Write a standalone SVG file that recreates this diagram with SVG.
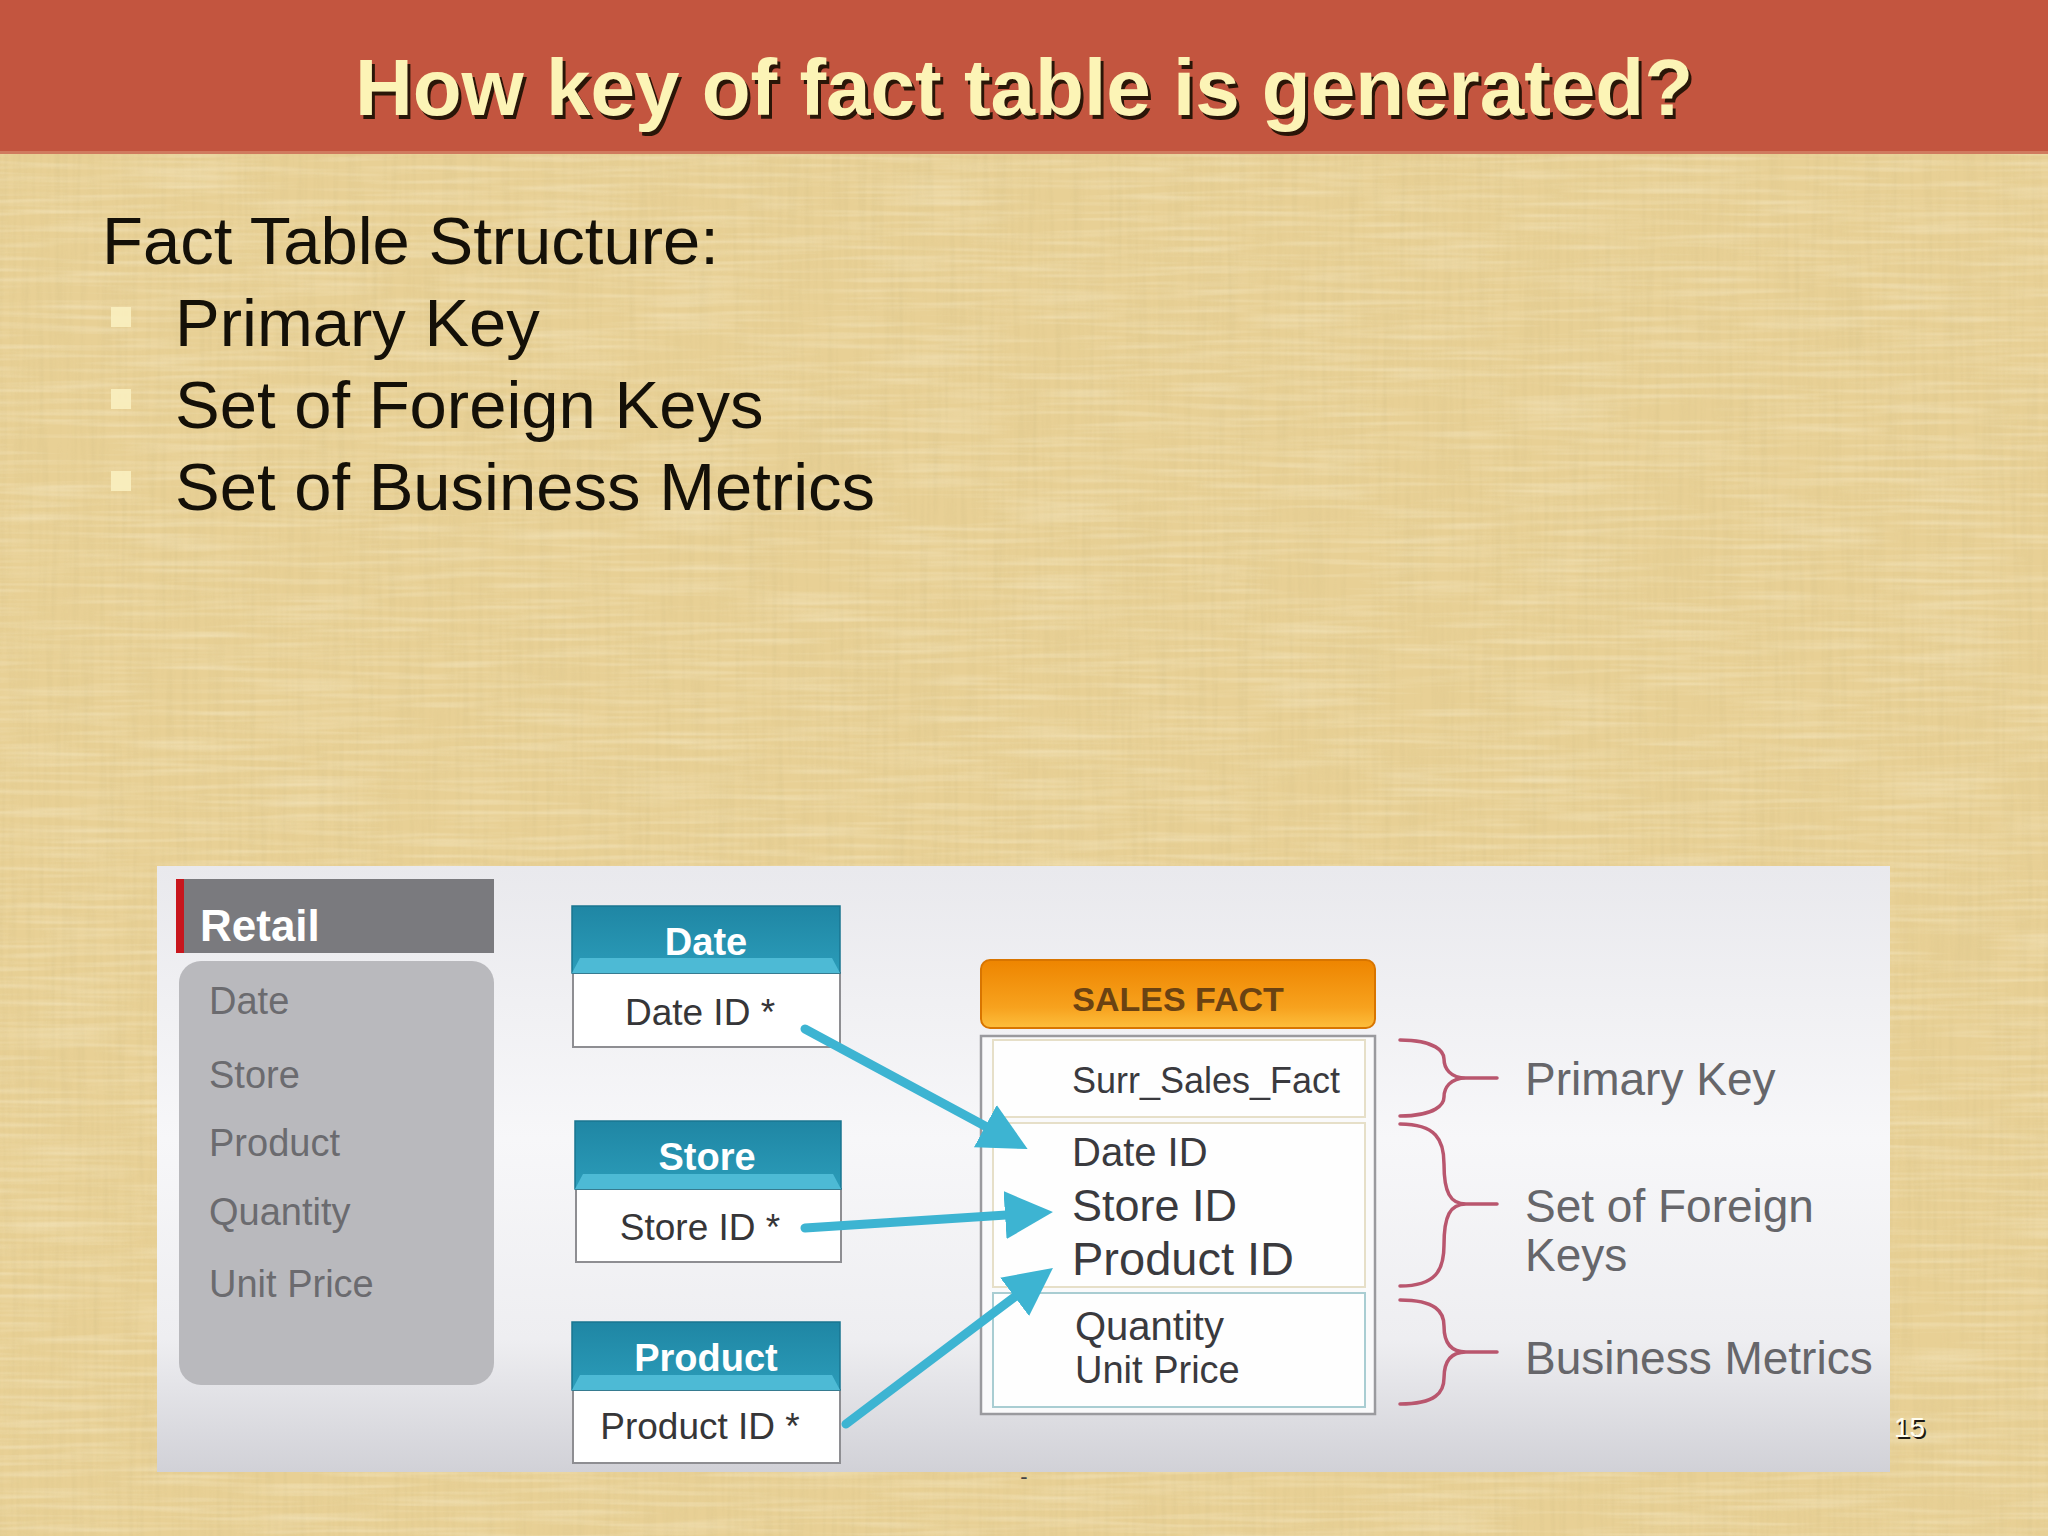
<svg xmlns="http://www.w3.org/2000/svg" width="2048" height="1536" viewBox="0 0 2048 1536">
<defs>
<style>
.t{font-family:"Liberation Sans",Arial,sans-serif}
.title{font-weight:bold;font-size:80px;fill:#FCF4B6}
.title-sh{font-weight:bold;font-size:80px;fill:#2a1608}
.body{font-size:67px;fill:#141008}
.bullet{fill:#FAF0C0;opacity:.9}
.retail-item{font-size:38px;fill:#6B6B6F}
.th{font-size:38px;font-weight:bold;fill:#FFFFFF;text-anchor:middle}
.td{font-size:37px;fill:#363638;text-anchor:middle}
.tbl-body{fill:#FFFFFF;stroke:#8E8E92;stroke-width:2}
.conn{stroke:#3DB4D2;stroke-width:9;fill:none;stroke-linecap:round}
.brace{stroke:#B9566E;stroke-width:3.5;fill:none;stroke-linecap:round}
.lbl{font-size:46px;fill:#66666A}
.sf{fill:#3A3A3E}
.row{fill:#FEFEFE;stroke:#E6DFC8;stroke-width:2}
</style>
<filter id="linenV" x="0" y="0" width="100%" height="100%">
<feTurbulence type="fractalNoise" baseFrequency="0.18 0.008" numOctaves="2" seed="7"/>
<feColorMatrix type="matrix" values="0 0 0 0 0.70  0 0 0 0 0.56  0 0 0 0 0.26  1.5 0 0 0 -0.6"/>
</filter>
<filter id="linenH" x="0" y="0" width="100%" height="100%">
<feTurbulence type="fractalNoise" baseFrequency="0.008 0.18" numOctaves="2" seed="11"/>
<feColorMatrix type="matrix" values="0 0 0 0 0.99  0 0 0 0 0.94  0 0 0 0 0.76  1.5 0 0 0 -0.62"/>
</filter>
<linearGradient id="insetBg" x1="0" y1="0" x2="0" y2="1">
<stop offset="0" stop-color="#E9E9ED"/>
<stop offset="0.45" stop-color="#F7F7F9"/>
<stop offset="0.78" stop-color="#EEEEF1"/>
<stop offset="1" stop-color="#D1D1D7"/>
</linearGradient>
<linearGradient id="teal" x1="0" y1="0" x2="0" y2="1">
<stop offset="0" stop-color="#1F86A4"/>
<stop offset="1" stop-color="#2B9CB9"/>
</linearGradient>
<linearGradient id="orange" x1="0" y1="0" x2="0" y2="1">
<stop offset="0" stop-color="#EE8500"/>
<stop offset="0.7" stop-color="#F7A21E"/>
<stop offset="1" stop-color="#FDBE3C"/>
</linearGradient>
<marker id="ah" markerUnits="userSpaceOnUse" markerWidth="50" markerHeight="50" refX="28" refY="24" orient="auto" viewBox="0 0 50 50">
<path d="M0,0 L48,24 L0,48 z" fill="#3DB4D2"/>
</marker>
</defs>

<!-- background -->
<rect x="0" y="0" width="2048" height="1536" fill="#E8D095"/>
<rect x="0" y="0" width="2048" height="1536" filter="url(#linenV)" opacity="0.6"/>
<rect x="0" y="0" width="2048" height="1536" filter="url(#linenH)" opacity="0.45"/>

<!-- header -->
<g id="header">
<rect x="0" y="0" width="2048" height="153" fill="#C3553F"/>
<rect x="0" y="151" width="2048" height="3" fill="#D07A5E"/>
<text class="t title-sh" x="1027" y="119" text-anchor="middle">How key of fact table is generated?</text>
<text class="t title" x="1024" y="115" text-anchor="middle">How key of fact table is generated?</text>
</g>

<!-- bullet text -->
<g id="structure-text">
<text class="t body" x="102" y="264">Fact Table Structure:</text>
<rect class="bullet" x="111" y="307" width="20" height="20"/>
<text class="t body" x="175" y="346">Primary Key</text>
<rect class="bullet" x="111" y="389" width="20" height="20"/>
<text class="t body" x="175" y="428">Set of Foreign Keys</text>
<rect class="bullet" x="111" y="471" width="20" height="20"/>
<text class="t body" x="175" y="510">Set of Business Metrics</text>
</g>

<!-- inset panel -->
<g id="inset">
<rect x="157" y="866" width="1733" height="606" fill="url(#insetBg)"/>
</g>

<g id="retail">
<rect x="176" y="879" width="318" height="74" fill="#7A7A7E"/>
<rect x="176" y="879" width="8" height="74" fill="#C8161D"/>
<text class="t" x="200" y="941" font-size="44" font-weight="bold" fill="#FFFFFF">Retail</text>
<rect x="179" y="961" width="315" height="424" rx="22" fill="#B9B9BD"/>
<text class="t retail-item" x="209" y="1014">Date</text>
<text class="t retail-item" x="209" y="1088">Store</text>
<text class="t retail-item" x="209" y="1156">Product</text>
<text class="t retail-item" x="209" y="1225">Quantity</text>
<text class="t retail-item" x="209" y="1297">Unit Price</text>
</g>

<g id="dim-date">
<rect class="tbl-body" x="573" y="973" width="267" height="74"/>
<rect x="572" y="906" width="268" height="67" fill="url(#teal)" stroke="#1A7590" stroke-width="1.5"/>
<polygon points="572,973 840,973 832,958 580,958" fill="#4DBAD5"/>
<text class="t th" x="706" y="955">Date</text>
<text class="t td" x="700" y="1025">Date ID *</text>
</g>

<g id="dim-store">
<rect class="tbl-body" x="576" y="1189" width="265" height="73"/>
<rect x="575" y="1121" width="266" height="68" fill="url(#teal)" stroke="#1A7590" stroke-width="1.5"/>
<polygon points="575,1189 841,1189 833,1174 583,1174" fill="#4DBAD5"/>
<text class="t th" x="707" y="1170">Store</text>
<text class="t td" x="700" y="1240">Store ID *</text>
</g>

<g id="dim-product">
<rect class="tbl-body" x="573" y="1390" width="267" height="73"/>
<rect x="572" y="1322" width="268" height="68" fill="url(#teal)" stroke="#1A7590" stroke-width="1.5"/>
<polygon points="572,1390 840,1390 832,1375 580,1375" fill="#4DBAD5"/>
<text class="t th" x="706" y="1371">Product</text>
<text class="t td" x="700" y="1439">Product ID *</text>
</g>

<g id="sales-fact">
<rect x="981" y="1036" width="394" height="378" fill="#FAFAFB" stroke="#9A9A9E" stroke-width="2.5"/>
<rect class="row" x="993" y="1040" width="372" height="77"/>
<rect class="row" x="993" y="1123" width="372" height="164"/>
<rect x="993" y="1293" width="372" height="114" fill="#FEFEFE" stroke="#A9CDD2" stroke-width="2"/>
<rect x="981" y="960" width="394" height="68" rx="9" fill="url(#orange)" stroke="#D87500" stroke-width="2"/>
<text class="t" x="1178" y="1011" font-size="34" font-weight="bold" fill="#6A4212" text-anchor="middle">SALES FACT</text>
<text class="t sf" x="1072" y="1093" font-size="36">Surr_Sales_Fact</text>
<text class="t sf" x="1072" y="1166" font-size="40">Date ID</text>
<text class="t sf" x="1072" y="1221" font-size="45">Store ID</text>
<text class="t sf" x="1072" y="1275" font-size="47">Product ID</text>
<text class="t sf" x="1075" y="1340" font-size="40">Quantity</text>
<text class="t sf" x="1075" y="1383" font-size="38">Unit Price</text>
</g>

<g id="connectors">
<line class="conn" x1="805" y1="1029" x2="1010" y2="1139.5" marker-end="url(#ah)"/>
<line class="conn" x1="805" y1="1228" x2="1033" y2="1213.3" marker-end="url(#ah)"/>
<line class="conn" x1="846" y1="1424" x2="1037" y2="1280" marker-end="url(#ah)"/>
<path class="brace" d="M1400,1040 C1436,1040 1444,1052 1444,1059 C1444,1068 1450,1078 1466,1078 C1450,1078 1444,1088 1444,1097 C1444,1104 1436,1116 1400,1116 M1466,1078 L1497,1078"/>
<path class="brace" d="M1400,1124 C1436,1124 1444,1140 1444,1164 C1444,1192 1450,1204 1466,1204 C1450,1204 1444,1216 1444,1245 C1444,1270 1436,1286 1400,1286 M1466,1204 L1497,1204"/>
<path class="brace" d="M1400,1300 C1436,1300 1444,1312 1444,1326 C1444,1342 1450,1352 1466,1352 C1450,1352 1444,1362 1444,1378 C1444,1392 1436,1404 1400,1404 M1466,1352 L1497,1352"/>
</g>

<g id="labels">
<text class="t lbl" x="1525" y="1095">Primary Key</text>
<text class="t lbl" x="1525" y="1222">Set of Foreign</text>
<text class="t lbl" x="1525" y="1271">Keys</text>
<text class="t lbl" x="1525" y="1374">Business Metrics</text>
</g>

<g id="footer">
<text class="t" x="1896" y="1439" font-size="28" fill="#1E1A14">15</text>
<text class="t" x="1894" y="1437" font-size="28" fill="#FFFDF0">15</text>
<text class="t" x="1024" y="1484" font-size="22" fill="#444" text-anchor="middle">-</text>
</g>
</svg>
